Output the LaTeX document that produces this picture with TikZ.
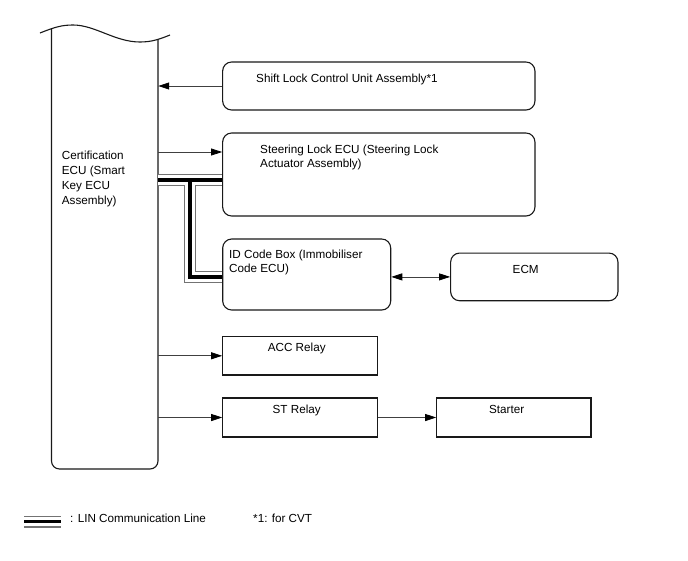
\documentclass[tikz,border=0pt]{standalone}
\usepackage{fontspec}
\setmainfont{Liberation Sans}
\usetikzlibrary{arrows.meta}
\begin{document}
\begin{tikzpicture}[x=1pt,y=-1pt,
  txt/.style={font=\fontsize{11.7}{13.5}\selectfont, inner sep=0, align=left},
  rbox/.style={draw=black!90, line width=1.1pt, rounded corners=9pt, inner sep=0},
  sbox/.style={draw=black!90, line width=1.1pt, inner sep=0},
  eculine/.style={draw=black!90, line width=1.1pt},
  arr/.style={draw=black!75, line width=0.8pt, -{Triangle[length=11pt,width=7pt,color=black]}},
  darr/.style={draw=black!75, line width=0.8pt, {Triangle[length=11pt,width=7pt,color=black]}-{Triangle[length=11pt,width=7pt,color=black]}},
  lingray/.style={draw=black!55, line width=12pt},
  linwhite/.style={draw=white, line width=9.2pt},
  linblack/.style={draw=black, line width=3.2pt}
]
\useasboundingbox[fill=white] (0,0) rectangle (688,560);

% Certification ECU
\node[minimum width=106.5pt, minimum height=440pt, inner sep=0] (ecu) at (104.75,249) {};
\draw[eculine, rounded corners=8pt] (51.5,28.6) -- (51.5,469) -- (158,469) -- (158,39.4);
\draw[eculine] (40,33) .. controls (55,27) and (62,25) .. (73,25)
  .. controls (95,25) and (115,42) .. (140,42)
  .. controls (152,42) and (160,39) .. (170,35);
\node[txt, anchor=west, font=\fontsize{11.7}{15}\selectfont] (ecutxt) at (61.7,179.3)
  {Certification\\ECU (Smart\\Key ECU\\Assembly)};

% boxes
\node[rbox, minimum width=312.3pt, minimum height=48pt] (shift) at (378.8,86) {};
\node[rbox, minimum width=312.3pt, minimum height=83pt] (steer) at (378.8,174.5) {};
\node[rbox, minimum width=168pt, minimum height=71pt] (id) at (306.7,274.5) {};
\node[rbox, minimum width=167.3pt, minimum height=47.7pt] (ecm) at (534.3,276.9) {};
\node[sbox, minimum width=155pt, minimum height=38.3pt] (acc) at (300.2,355.8) {};
\node[sbox, minimum width=155pt, minimum height=39pt] (st) at (300.2,417.5) {};
\node[sbox, minimum width=154.3pt, minimum height=39pt] (starter) at (513.85,417.5) {};

% labels
\node[txt, anchor=west] (shifttxt) at (256,79) {Shift Lock Control Unit Assembly*1};
\node[txt, anchor=west] (steertxt) at (260,157.5) {Steering Lock ECU (Steering Lock\\Actuator Assembly)};
\node[txt, anchor=west] (idtxt) at (229,262.5) {ID Code Box (Immobiliser\\Code ECU)};
\node[txt] (ecmtxt) at (525.7,269) {ECM};
\node[txt] (acctxt) at (296.7,348) {ACC Relay};
\node[txt] (sttxt) at (296.7,410.7) {ST Relay};
\node[txt] (startertxt) at (506.7,409) {Starter};

% connectors
\draw[arr] (shift.west) -- (ecu.east |- shift.west);
\draw[arr] (ecu.east |- 0,152) -- (steer.west |- 0,152);
\draw[darr] (id.east |- ecm.west) -- (ecm.west);
\draw[arr] (ecu.east |- acc.west) -- (acc.west);
\draw[arr] (ecu.east |- st.west) -- (st.west);
\draw[arr] (st.east) -- (starter.west);

% LIN communication line
\coordinate (lj) at (190,180);
\coordinate (lc) at (190,277);
\foreach \s in {lingray,linwhite,linblack}{
  \draw[\s] (ecu.east |- lj) -- (steer.west |- lj);
  \draw[\s] (lj) -- (lc) -- (id.west |- lc);
}

% legend
\coordinate (legA) at (24.3,521.5);
\coordinate (legB) at (60.7,521.5);
\foreach \s in {lingray,linwhite,linblack}{
  \draw[\s] (legA) -- (legB);
}
\node[txt, anchor=west] (legtxt) at (70,518) {: LIN Communication Line};
\node[txt, anchor=west] (notetxt) at (253,518.5) {*1: for CVT};
\end{tikzpicture}
\end{document}
